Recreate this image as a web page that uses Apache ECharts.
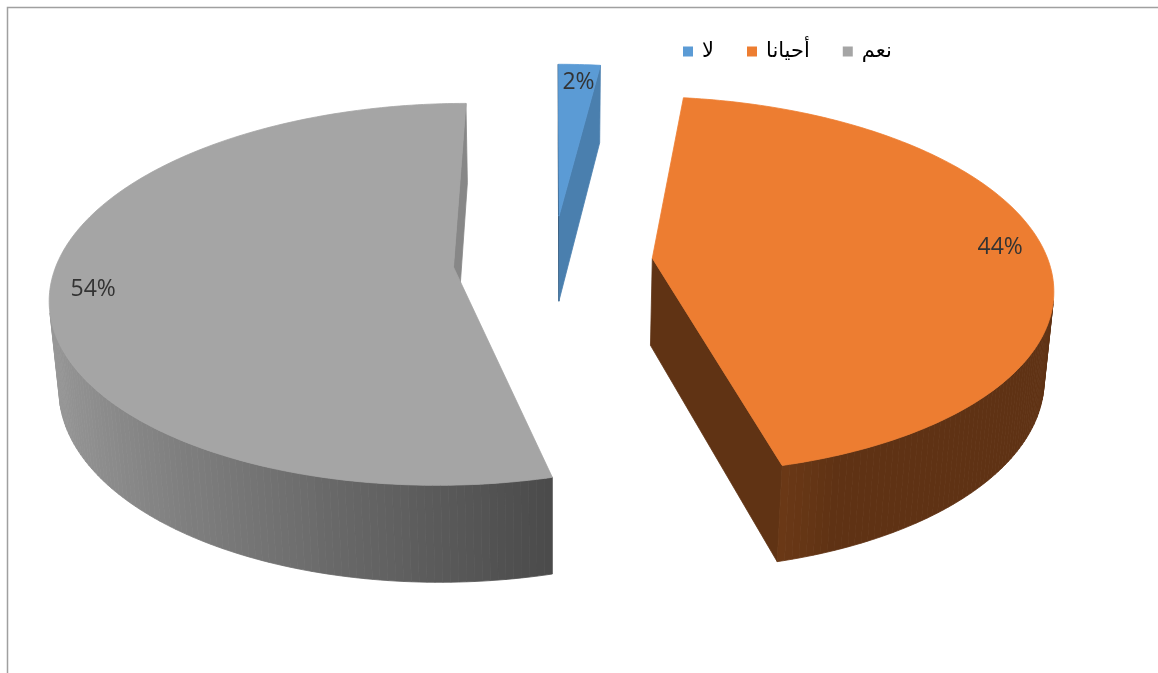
<!DOCTYPE html>
<html>
<head>
<meta charset="utf-8">
<script src="https://cdn.jsdelivr.net/npm/echarts@6/dist/echarts.min.js"></script>
<style>
  html, body { margin: 0; padding: 0; background: #fff; }
  #chart { width: 1158px; height: 673px; }
</style>
</head>
<body>
<div id="chart"></div>
<script>
// Survey answers and their shares (percent)
const categories = ['لا', 'أحيانا', 'نعم'];
const values = [2, 44, 54];
const colors = ['#5B9BD5', '#ED7D31', '#A5A5A5'];

// Layout of the exploded 3D pie, as fractions of the chart size / radius
const pie = {
  cx: 0.4775,         // centre x (fraction of width)
  cy: 0.388,          // centre y (fraction of height)
  radius: 0.342,      // radius (fraction of width)
  depth: 0.254,       // slab thickness (fraction of radius)
  explode: 0.252,     // slice offset (fraction of radius)
  tilt: Math.asin(0.468),
  distance: 6.2,      // camera distance (multiples of radius)
  labelInset: 20
};

const total = values.reduce((a, b) => a + b, 0);
const starts = values.map((v, i) => values.slice(0, i).reduce((a, b) => a + b, 0));

function shade(hex, f) {
  const n = parseInt(hex.slice(1), 16);
  const r = Math.min(255, Math.round(((n >> 16) & 255) * f));
  const g = Math.min(255, Math.round(((n >> 8) & 255) * f));
  const b = Math.min(255, Math.round((n & 255) * f));
  return 'rgb(' + r + ',' + g + ',' + b + ')';
}

function renderSlice(params, api) {
  const W = api.getWidth(), H = api.getHeight();
  const share = api.value(0), start = api.value(1);
  const R = pie.radius * W, cx = pie.cx * W, cy = pie.cy * H;
  const h = pie.depth * R, e = pie.explode * R, D = pie.distance * R;
  const sinT = Math.sin(pie.tilt), cosT = Math.cos(pie.tilt);
  const proj = (X, Y, Z) => {
    const w = Y * cosT - Z * sinT;
    const s = D / (D + w);
    return [cx + X * s, cy - (Y * sinT + Z * cosT) * s];
  };
  const cam = [0, -D * cosT, D * sinT];
  const facing = (n, p) =>
    n[0] * (cam[0] - p[0]) + n[1] * (cam[1] - p[1]) + n[2] * (cam[2] - p[2]) > 0;

  // angles run clockwise from the back of the pie (12 o'clock)
  const a0 = start / total * 2 * Math.PI;
  const a1 = (start + share) / total * 2 * Math.PI;
  const mid = (a0 + a1) / 2;
  const ox = e * Math.sin(mid), oy = e * Math.cos(mid);
  const rim = (a, Z) => [ox + R * Math.sin(a), oy + R * Math.cos(a), Z];
  const base = api.visual('color');
  const children = [];
  const poly = (pts3, fill) => children.push({
    type: 'polygon',
    shape: { points: pts3.map(p => proj(p[0], p[1], p[2])) },
    style: { fill: fill, stroke: fill, lineWidth: 0.8 },
    silent: true
  });

  // cut faces
  const apexT = [ox, oy, 0], apexB = [ox, oy, -h];
  const n0 = [-Math.cos(a0), Math.sin(a0), 0];
  if (facing(n0, apexT)) {
    poly([apexT, rim(a0, 0), rim(a0, -h), apexB], shade(base, 0.61 - 0.21 * Math.cos(a0)));
  }
  const n1 = [Math.cos(a1), -Math.sin(a1), 0];
  if (facing(n1, apexT)) {
    poly([apexT, rim(a1, 0), rim(a1, -h), apexB], shade(base, 0.61 + 0.21 * Math.cos(a1)));
  }

  // outer wall, in thin strips
  const steps = Math.max(2, Math.ceil((a1 - a0) / (Math.PI / 180)));
  for (let i = 0; i < steps; i++) {
    const s0 = a0 + (a1 - a0) * i / steps;
    const s1 = a0 + (a1 - a0) * (i + 1) / steps;
    const am = (s0 + s1) / 2;
    const n = [Math.sin(am), Math.cos(am), 0];
    if (!facing(n, rim(am, 0))) continue;
    const f = Math.max(0.4, 0.546 - 0.384 * Math.sin(am));
    poly([rim(s0, 0), rim(s1, 0), rim(s1, -h), rim(s0, -h)], shade(base, f));
  }

  // top face
  const top = [apexT];
  for (let i = 0; i <= steps; i++) top.push(rim(a0 + (a1 - a0) * i / steps, 0));
  poly(top, base);

  // value label, inside the outer edge
  const sm = Math.sin(mid), cm = Math.cos(mid);
  const rl = R - pie.labelInset;
  const lp = proj(ox + rl * sm, oy + rl * cm, 0);
  children.push({
    type: 'text',
    x: lp[0], y: lp[1],
    silent: true,
    style: {
      text: Math.round(share / total * 100) + '%',
      fill: '#333333',
      fontFamily: 'Open Sans',
      fontSize: 23,
      align: sm > 0.5 ? 'right' : (sm < -0.5 ? 'left' : 'center'),
      verticalAlign: cm > 0.5 ? 'top' : (cm < -0.5 ? 'bottom' : 'middle')
    }
  });

  return { type: 'group', children: children };
}

const chart = echarts.init(document.getElementById('chart'), null, { renderer: 'canvas' });
chart.setOption({
  backgroundColor: '#ffffff',
  animation: false,
  legend: {
    data: categories,
    left: 678,
    top: 36,
    icon: 'rect',
    itemWidth: 10,
    itemHeight: 10,
    itemGap: 33,
    textStyle: { fontFamily: 'DejaVu Sans', fontSize: 21, color: '#000', padding: [0, 0, 0, 4] }
  },
  graphic: [{
    type: 'rect',
    silent: true,
    shape: { x: 7.5, y: 7.5, width: 1300, height: 800 },
    style: { fill: null, stroke: '#a0a0a0', lineWidth: 1.5 }
  }],
  series: categories.map((name, i) => ({
    type: 'custom',
    name: name,
    coordinateSystem: 'none',
    renderItem: renderSlice,
    itemStyle: { color: colors[i] },
    data: [[values[i], starts[i]]]
  }))
});
</script>
</body>
</html>
